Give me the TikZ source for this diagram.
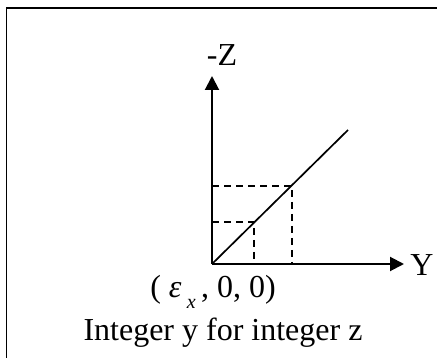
\documentclass[tikz,border=0pt]{standalone}
\usepackage{fontspec}
\setmainfont{Liberation Serif}
\usetikzlibrary{arrows.meta}
\begin{document}
\begin{tikzpicture}[x=1pt,y=-1pt,
  axis/.style={line width=2pt,-{Triangle[length=14pt,width=14pt]}},
  guide/.style={line width=1.6pt,dash pattern=on 7pt off 5pt},
  lbl/.style={inner sep=0pt,font=\fontsize{32}{38}\selectfont}]
\useasboundingbox (0,0) rectangle (437,358);
\clip (0,0) rectangle (437,358);
\draw[line width=1.8pt] (6.5,8) rectangle (460,380);
\coordinate (O) at (212,264);
\coordinate (Ztip) at (212,76);
\coordinate (Ytip) at (404,264);
\coordinate (E) at (348,130);
\coordinate (P1) at (254,222);
\coordinate (P2) at (292,186);
\draw[axis] (O) -- (Ztip);
\draw[axis] (O) -- (Ytip);
\draw[line width=1.7pt] (O) -- (E);
\draw[guide] (212,186) -- (P2) -- (292,264);
\draw[guide] (212,222) -- (P1) -- (254,264);
\node[lbl] (zl) at (222,55) {-Z};
\node[lbl] (yl) at (422,265) {Y};
\node[lbl] (orig) at (213,292) {( \textit{ε}\,\raisebox{-0.35em}{\fontsize{20}{20}\selectfont\textit{x}}\,, 0, 0)};
\node[lbl] (cap) at (223,333) {Integer y for integer z};
\end{tikzpicture}
\end{document}
